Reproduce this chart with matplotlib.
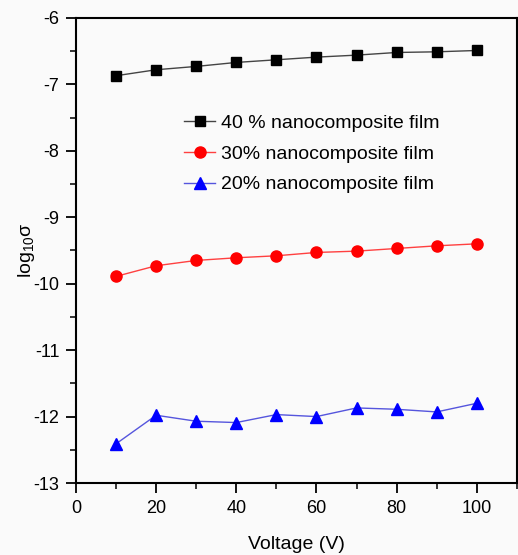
import matplotlib
matplotlib.use("Agg")
import matplotlib.pyplot as plt
from matplotlib.ticker import MultipleLocator

plt.rcParams["font.family"] = ["Liberation Sans", "DejaVu Sans"]
plt.rcParams["axes.unicode_minus"] = False
plt.rcParams["mathtext.fontset"] = "custom"
plt.rcParams["mathtext.rm"] = "Liberation Sans"

voltage = [10, 20, 30, 40, 50, 60, 70, 80, 90, 100]
film_40 = [-6.87, -6.78, -6.73, -6.67, -6.63, -6.59, -6.56, -6.52, -6.51, -6.49]
film_30 = [-9.89, -9.73, -9.65, -9.61, -9.58, -9.53, -9.51, -9.47, -9.43, -9.40]
film_20 = [-12.41, -11.98, -12.07, -12.09, -11.97, -12.00, -11.87, -11.89, -11.93, -11.80]

fig = plt.figure(figsize=(5.18, 5.55), dpi=100, facecolor="#fafafa")
ax = fig.add_axes([0.1467, 0.1297, 0.851, 0.838])
ax.set_facecolor("#fafafa")

ax.plot(voltage, film_40, color="#444444", lw=1, marker="s", ms=7, mfc="black", mec="black",
        label="40 % nanocomposite film")
ax.plot(voltage, film_30, color="#ff4040", lw=1, marker="o", ms=8, mfc="red", mec="red",
        label="30% nanocomposite film")
ax.plot(voltage, film_20, color="#5555dd", lw=1, marker="^", ms=9, mfc="blue", mec="blue",
        label="20% nanocomposite film")

ax.set_xlim(0, 110)
ax.set_ylim(-13, -6)
ax.xaxis.set_minor_locator(MultipleLocator(10))
ax.yaxis.set_major_locator(MultipleLocator(1))
ax.yaxis.set_minor_locator(MultipleLocator(0.5))
ax.set_xticks([0, 20, 40, 60, 80, 100])
ax.tick_params(which="major", direction="out", length=7, width=1.3, labelsize=13, pad=5)
ax.tick_params(which="minor", direction="out", length=4, width=1.1)
for s in ax.spines.values():
    s.set_linewidth(1.5)

ax.set_xlabel("Voltage (V)", fontsize=14, labelpad=14)
ax.set_ylabel(r"log$_{\mathrm{10}}$σ", fontsize=14)
ax.yaxis.set_label_coords(-0.088, 0.5)

ax.legend(loc="upper left", bbox_to_anchor=(0.228, 0.81), frameon=False, fontsize=14,
          handlelength=1.6, handletextpad=0.3, labelspacing=0.68, borderaxespad=0)

fig.savefig("out.png", dpi=100, facecolor=fig.get_facecolor())
